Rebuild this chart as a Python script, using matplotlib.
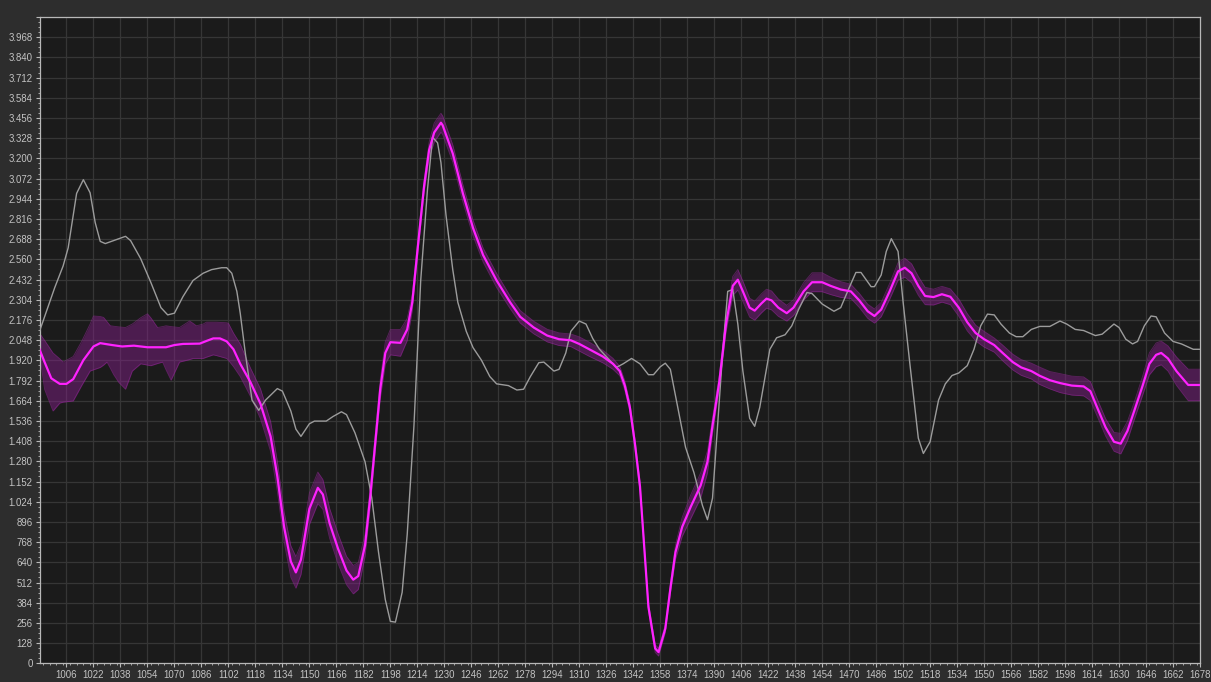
import matplotlib
matplotlib.use("Agg")
import matplotlib.pyplot as plt
from matplotlib.ticker import MultipleLocator, FuncFormatter
import numpy as np

# ---------------- data ----------------
gray_x = [990, 999, 1004, 1007, 1012, 1016, 1020, 1023, 1026, 1029, 1041, 1044, 1050, 1056, 1062,
          1066, 1070, 1075, 1081, 1087, 1092, 1098, 1101, 1104, 1107, 1109,
          1112, 1116, 1120, 1124, 1131, 1134, 1139, 1142, 1145, 1150, 1153, 1160, 1164, 1169, 1172,
          1177, 1183, 1187, 1191, 1195, 1198, 1201, 1205, 1208, 1212, 1216, 1220, 1223, 1226, 1228,
          1231, 1235, 1238, 1243, 1247, 1252, 1257, 1261, 1268, 1273, 1277, 1281, 1286, 1289, 1295,
          1298, 1302, 1305, 1310, 1314, 1318, 1322, 1328, 1332, 1336, 1341, 1346,
          1351, 1354, 1358, 1361, 1364, 1368, 1373, 1378, 1383, 1386, 1389, 1392, 1395, 1398, 1401,
          1404, 1407, 1411, 1414, 1417, 1420, 1423, 1427, 1432, 1436, 1440, 1445, 1448, 1454, 1461,
          1465, 1470, 1474, 1477, 1483, 1485, 1489, 1492, 1495, 1499, 1502, 1506, 1511, 1514, 1518,
          1523, 1527, 1531, 1535, 1540, 1544, 1548, 1552, 1556, 1560, 1565, 1569, 1573, 1578, 1583,
          1589, 1595, 1599, 1604, 1609, 1616, 1620, 1627, 1630, 1634, 1638, 1641, 1645, 1649, 1652,
          1657, 1662, 1667, 1674, 1678]
gray_y = [2104, 2380, 2518, 2633, 2978, 3065, 2982, 2794, 2674, 2660, 2706, 2679, 2564, 2414, 2254,
          2208, 2219, 2323, 2426, 2472, 2495, 2507, 2507, 2472, 2357, 2219,
          1967, 1668, 1603, 1668, 1741, 1725, 1599, 1484, 1438, 1518, 1535, 1535, 1564, 1594, 1576,
          1461, 1277, 1047, 703, 404, 266, 261, 450, 817, 1507, 2426, 3001, 3334, 3299, 3173,
          2840, 2495, 2288, 2104, 2001, 1921, 1817, 1771, 1760, 1732, 1737, 1817, 1905, 1909, 1852,
          1863, 1967, 2104, 2169, 2150, 2058, 1990, 1921, 1875, 1898, 1932, 1898,
          1829, 1829, 1879, 1902, 1863, 1645, 1369, 1208, 1001, 910, 1047, 1507, 1967, 2357, 2369,
          2150, 1852, 1553, 1502, 1622, 1806, 1990, 2063, 2082, 2139, 2242, 2350, 2343, 2277, 2231,
          2254, 2380, 2477, 2477, 2387, 2387, 2461, 2610, 2691, 2610, 2288, 1898, 1427, 1330, 1404,
          1668, 1771, 1824, 1840, 1886, 1990, 2139, 2213, 2208, 2150, 2093, 2070, 2070, 2116, 2135,
          2135, 2169, 2150, 2116, 2109, 2077, 2086, 2150, 2128, 2054, 2024, 2040, 2139, 2201, 2196,
          2093, 2040, 2024, 1990, 1990]

mag_x = [990, 993, 997, 1002, 1006, 1010, 1016, 1022, 1026, 1033, 1039, 1046, 1054, 1065, 1070,
         1075, 1085, 1089, 1093, 1097, 1101, 1105, 1109,
         1115, 1121, 1127, 1131, 1135, 1139, 1142, 1145, 1150, 1155, 1158, 1162, 1167, 1172, 1176,
         1179, 1183, 1186, 1189, 1192, 1195, 1198, 1204, 1208, 1211, 1214, 1218, 1221, 1224, 1228,
         1229, 1235, 1241, 1247, 1253, 1261, 1269, 1275, 1283, 1291, 1298, 1305, 1310, 1316, 1324,
         1330, 1334, 1337, 1340, 1343, 1346, 1348, 1351, 1355, 1357, 1361, 1364, 1367, 1371, 1376,
         1382, 1386, 1389, 1393, 1397, 1401, 1404, 1407, 1411, 1414, 1418, 1421, 1424, 1428, 1433,
         1437, 1443, 1448, 1454, 1459, 1465, 1471, 1476, 1481, 1485, 1489, 1494, 1499, 1503, 1507,
         1511, 1515, 1520, 1525, 1530, 1535, 1540, 1545, 1550, 1556, 1561, 1567, 1572, 1578, 1583,
         1589, 1595, 1602, 1609, 1613, 1617, 1622, 1627, 1631, 1635, 1639, 1644, 1648, 1652, 1655,
         1659, 1664, 1671, 1678]
mag_y = [1990, 1909, 1806, 1771, 1771, 1801, 1921, 2008, 2029, 2017, 2008, 2013, 2003, 2003, 2017,
         2024, 2026, 2043, 2059, 2059, 2040, 1990, 1898,
         1783, 1645, 1438, 1185, 864, 645, 576, 657, 979, 1112, 1070, 887, 726, 588, 530,
         553, 749, 1047, 1392, 1737, 1967, 2035, 2031, 2116, 2288, 2610, 3024, 3254, 3364, 3426,
         3410, 3231, 2978, 2759, 2587, 2426, 2288, 2196, 2128, 2077, 2054, 2047, 2024, 1990, 1944,
         1898, 1852, 1760, 1622, 1392, 1120, 818, 358, 94, 71, 220, 473, 703, 864, 990,
         1128, 1277, 1507, 1783, 2150, 2392, 2431, 2357, 2254, 2235, 2281, 2311, 2300, 2254, 2219,
         2254, 2357, 2415, 2415, 2392, 2369, 2357, 2300, 2231, 2201, 2242, 2357, 2484, 2507, 2472,
         2392, 2328, 2321, 2339, 2323, 2254, 2162, 2093, 2054, 2017, 1967, 1909, 1875, 1852, 1822,
         1794, 1776, 1760, 1755, 1725, 1622, 1496, 1404, 1392, 1473, 1599, 1760, 1898, 1955, 1967,
         1932, 1852, 1764, 1764]

# band around the magenta line: explicit bounds for the noisy start
band_x_start = [990, 993, 998, 1002, 1004, 1010, 1015, 1020, 1022, 1026, 1028, 1030, 1032, 1034,
                1037, 1041, 1045, 1048, 1050, 1054, 1056, 1060, 1063, 1065, 1068, 1073, 1079,
                1081, 1083, 1087, 1089, 1093, 1095, 1101, 1102, 1105, 1109]
band_hi_start = [2093, 2047, 1967, 1930, 1909, 1944, 2040, 2150, 2201, 2198, 2192, 2165, 2139, 2136,
                 2132, 2128, 2150, 2174, 2190, 2215, 2190, 2128, 2134, 2139, 2134, 2128, 2169,
                 2155, 2139, 2150, 2162, 2162, 2162, 2158, 2155, 2093, 2024]
band_lo_start = [1967, 1737, 1599, 1649, 1655, 1663, 1760, 1852, 1860, 1875, 1890, 1909, 1870, 1829,
                 1780, 1737, 1852, 1880, 1898, 1890, 1886, 1900, 1909, 1860, 1794, 1909, 1925,
                 1932, 1932, 1932, 1940, 1955, 1950, 1932, 1920, 1880, 1817]
# half-width of the band for the magenta points from x = 1115 onwards
mag_spread = [90, 95, 95, 95, 95, 100, 100, 95, 100, 100, 95, 95, 95, 90, 90,
              85, 70, 60, 55, 60, 70, 80, 85, 70, 50, 40, 40, 50, 60, 60,
              60, 55, 55, 50, 45, 45, 40, 40, 40, 40, 40, 40, 45, 45, 40,
              35, 30, 30, 30, 30, 30, 25, 25, 25, 25, 25, 30, 45, 60, 75,
              80, 70, 50, 40, 50, 60, 65, 65, 60, 60, 60, 60, 60, 55, 50,
              50, 55, 60, 60, 55, 50, 45, 45, 45, 45, 45, 50, 55, 60, 60,
              60, 55, 50, 50, 50, 55, 55, 50, 50, 45, 50, 50, 50, 50, 55,
              55, 60, 60, 60, 60, 55, 55, 60, 65, 60, 55, 60, 70, 75, 75,
              80, 90, 100, 100]

x_ticks = list(range(1006, 1679, 16))

# ---------------- styling ----------------
FIG_BG = "#2d2d2d"
AX_BG = "#1b1b1b"
GRID = "#363636"
TXT = "#c4c4c4"
SPINE = "#b8b8b8"

fig = plt.figure(figsize=(12.11, 6.82), dpi=100, facecolor=FIG_BG)
ax = fig.add_axes([39.5 / 1211, 18.7 / 682, (1200 - 39.5) / 1211, (665 - 18.7) / 682])
ax.set_facecolor(AX_BG)

# band
k = len(mag_x) - len(mag_spread)
late_x = np.array(mag_x[k:])
late_y = np.array(mag_y[k:])
sp = np.array(mag_spread)
bx = np.concatenate([band_x_start, late_x])
bhi = np.concatenate([band_hi_start, late_y + sp])
blo = np.concatenate([band_lo_start, late_y - sp])
ax.fill_between(bx, blo, bhi, color="#8a1f8f", alpha=0.45, linewidth=0, zorder=2)
ax.plot(bx, bhi, color="#9a289f", lw=0.6, alpha=0.5, zorder=2)
ax.plot(bx, blo, color="#9a289f", lw=0.6, alpha=0.5, zorder=2)

ax.plot(gray_x, gray_y, color="#9c9c9c", lw=1.0, zorder=3)
ax.plot(mag_x, mag_y, color="#ff22ff", lw=1.6, zorder=4)

ax.set_xlim(990, 1678)
ax.set_ylim(0, 4096)

ax.set_xticks(x_ticks)
ax.xaxis.set_minor_locator(MultipleLocator(4))
ax.yaxis.set_major_locator(MultipleLocator(128))
ax.yaxis.set_minor_locator(MultipleLocator(32))


def yfmt(v, p):
    if v >= 4096:
        return ""
    return f"{int(round(v)):,}".replace(",", ".")


ax.yaxis.set_major_formatter(FuncFormatter(yfmt))

ax.grid(True, which="major", color=GRID, linewidth=0.9)
ax.set_axisbelow(True)

ax.tick_params(axis="both", which="major", colors=SPINE, labelcolor=TXT, labelsize=6.9,
               length=3, width=0.8, pad=2)
ax.tick_params(axis="both", which="minor", colors=SPINE, length=1.5, width=0.6)
for lab in ax.get_xticklabels() + ax.get_yticklabels():
    lab.set_fontfamily("Liberation Sans")

for s in ["left", "top", "right", "bottom"]:
    ax.spines[s].set_color(SPINE)
    ax.spines[s].set_linewidth(0.9)

fig.savefig("out.png", dpi=100, facecolor=FIG_BG)
